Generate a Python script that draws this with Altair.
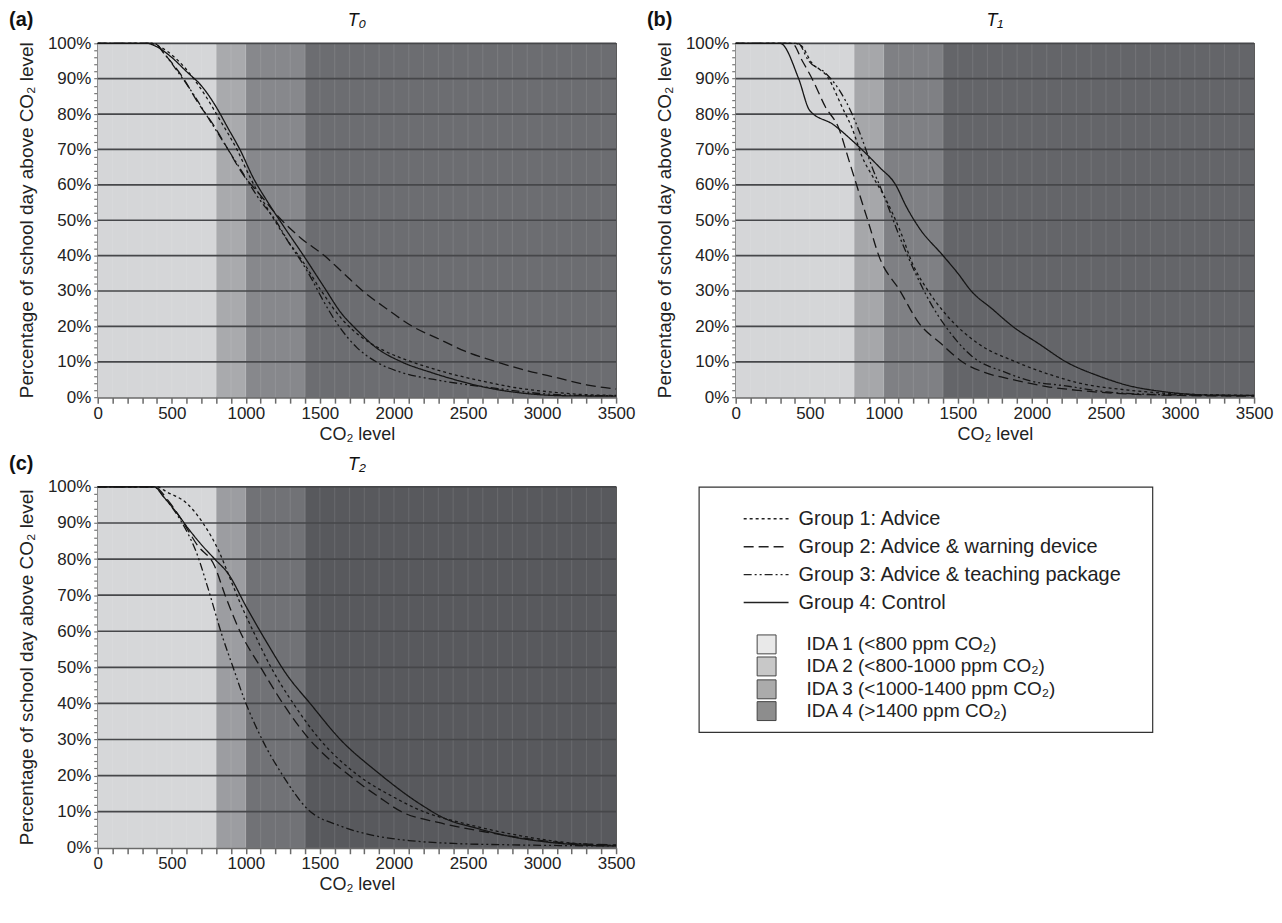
import altair as alt
import pandas as pd

FONT = "Liberation Sans"
W = 520
H_TOP, H_BOT = 355, 362

# ---------------- data ----------------
groups = ["Group 1: Advice", "Group 2: Advice & warning device",
          "Group 3: Advice & teaching package", "Group 4: Control"]
group_dashes = [[3, 3], [10, 5], [8, 3, 2, 3, 2, 3], [1, 0]]

ida_names = ["IDA 1 (<800 ppm CO₂)", "IDA 2 (<800-1000 ppm CO₂)",
             "IDA 3 (<1000-1400 ppm CO₂)", "IDA 4 (>1400 ppm CO₂)"]
ida_start = [0, 800, 1000, 1400]
ida_end = [800, 1000, 1400, 3500]
band_colors_a = ["#d5d6d8", "#a9aaad", "#87888c", "#6c6d71"]
band_colors_b = ["#d5d6d8", "#a6a7aa", "#7f8084", "#646569"]
band_colors_c = ["#d6d7d9", "#9c9da1", "#717276", "#58595d"]
legend_swatch_colors = ["#e9e9e9", "#c8c8c8", "#ababab", "#8d8d8d"]

co2_ticks = list(range(0, 3501, 100))
pct_ticks = list(range(0, 101, 2))
hgrid_pct = list(range(10, 101, 10))
vgrid_co2 = list(range(100, 3500, 100))

# T0
t0_g1_co2 = [0, 350, 420, 520, 630, 730, 830, 940, 1030, 1150, 1270, 1390, 1510, 1650, 1780, 1940, 2120, 2350, 2600, 2850, 3050, 3300, 3500]
t0_g1_pct = [100, 100, 99, 96, 91, 85, 78, 70, 62, 53, 45, 38, 30, 22, 17, 13, 10, 7, 4.5, 2.5, 1.5, 0.7, 0.5]
t0_g2_co2 = [0, 380, 470, 580, 680, 780, 880, 980, 1100, 1220, 1370, 1530, 1660, 1790, 1950, 2125, 2300, 2480, 2690, 2900, 3100, 3300, 3500]
t0_g2_pct = [100, 100, 96, 90, 83, 77, 70, 63, 57, 51, 45, 40, 35, 30, 25, 20, 16.5, 13, 10, 7.5, 5.5, 3.5, 2.3]
t0_g3_co2 = [0, 380, 450, 540, 640, 730, 850, 970, 1090, 1200, 1300, 1380, 1450, 1500, 1630, 1750, 1880, 2050, 2270, 2500, 2690, 3000, 3250, 3500]
t0_g3_pct = [100, 100, 97, 92, 86, 80, 72, 64, 56, 50, 43, 38, 33, 29, 20, 14, 10, 7, 5, 3.5, 2.5, 1, 0.5, 0.4]
t0_g4_co2 = [0, 330, 400, 500, 600, 700, 800, 880, 960, 1050, 1150, 1260, 1390, 1530, 1640, 1750, 1880, 2050, 2250, 2450, 2650, 2900, 3150, 3500]
t0_g4_pct = [100, 100, 99, 96, 92, 88, 82, 76, 70, 62, 55, 48, 40, 31, 24, 19, 14, 10, 7, 4.5, 2.5, 1, 0.4, 0.3]

# T1
t1_g1_co2 = [0, 400, 450, 505, 628, 718, 786, 853, 930, 1000, 1120, 1191, 1300, 1417, 1642, 1890, 2150, 2318, 2650, 3000, 3500]
t1_g1_pct = [100, 100, 99, 95, 90, 82, 76, 68, 62, 57, 46, 38, 30, 23.5, 15, 10, 6, 4, 2, 0.9, 0.5]
t1_g2_co2 = [0, 380, 450, 516, 606, 696, 764, 831, 899, 966, 1110, 1236, 1390, 1529, 1680, 1867, 2100, 2318, 2600, 3000, 3500]
t1_g2_pct = [100, 100, 95, 90, 82, 76, 67, 58, 49, 40, 30, 21, 15, 10, 7, 5, 3, 1.9, 1, 0.5, 0.3]
t1_g3_co2 = [0, 420, 493, 606, 696, 786, 853, 921, 1000, 1110, 1214, 1310, 1417, 1597, 1822, 2000, 2228, 2500, 2800, 3500]
t1_g3_pct = [100, 100, 95, 91.6, 87, 80, 73, 65, 57, 45, 35, 27, 20, 11.5, 7, 4.5, 3.2, 1.5, 0.8, 0.4]
t1_g4_co2 = [0, 300, 425, 500, 660, 800, 970, 1080, 1150, 1236, 1400, 1500, 1590, 1730, 1870, 2050, 2230, 2450, 2650, 2900, 3200, 3500]
t1_g4_pct = [100, 100, 90, 81, 77, 72, 65, 60, 54, 48, 40, 35, 30, 25, 20, 15, 10, 6, 3.3, 1.5, 0.6, 0.5]

# T2
t2_g1_co2 = [0, 400, 470, 600, 710, 820, 890, 960, 1050, 1170, 1320, 1500, 1760, 2000, 2200, 2450, 2650, 2900, 3150, 3400, 3500]
t2_g1_pct = [100, 100, 98.5, 95.5, 90, 82, 75, 68, 60, 50, 40, 30, 20, 14, 10, 7, 5, 3, 1.5, 0.8, 0.6]
t2_g2_co2 = [0, 380, 480, 580, 670, 790, 860, 960, 1100, 1250, 1430, 1700, 1900, 2050, 2300, 2600, 2900, 3200, 3500]
t2_g2_pct = [100, 100, 96, 90, 84, 78, 70, 60, 50, 40, 30, 20, 14, 10, 7, 4.5, 2.5, 1.2, 0.8]
t2_g3_co2 = [0, 380, 450, 540, 610, 665, 744, 846, 914, 982, 1110, 1250, 1410, 1640, 1850, 2100, 2400, 2800, 3500]
t2_g3_pct = [100, 100, 97, 92, 87, 82, 72, 58, 50, 42, 30, 20, 11, 6, 3.5, 2, 1.2, 0.8, 0.5]
t2_g4_co2 = [0, 380, 450, 530, 620, 700, 790, 880, 1000, 1140, 1276, 1434, 1638, 1887, 2181, 2350, 2550, 2800, 3050, 3300, 3500]
t2_g4_pct = [100, 100, 97, 93, 88, 84, 80, 76, 67, 57, 48, 40, 30, 21, 12, 8, 5.5, 3, 1.5, 0.7, 0.5]

legend_group_rows = [0, 1, 2, 3]
legend_ida_rows = [4.5, 5.29, 6.11, 6.89]

Y_TITLE = "Percentage of school day above CO₂ level"
X_TITLE = "CO₂ level"

# ---------------- helpers ----------------
xscale = alt.Scale(domain=[0, 3500], nice=False, zero=False)
yscale = alt.Scale(domain=[0, 100], nice=False)

x_axis = alt.Axis(values=co2_ticks, labelExpr="datum.value % 500 === 0 ? '' + datum.value : ''",
                  labelOverlap=False, labelFlush=False, tickSize=6, tickColor="#6a6a6a", tickWidth=1.5,
                  domainColor="#6a6a6a", domainWidth=2, labelFontSize=17, labelColor="#222",
                  labelPadding=2, titleFontSize=18, titleFontWeight="normal", titleColor="#222",
                  titlePadding=4, grid=False)
y_axis = alt.Axis(values=pct_ticks, labelExpr="datum.value % 10 === 0 ? datum.value + '%' : ''",
                  labelOverlap=False, labelFlush=False, tickSize=4, tickColor="#777", tickWidth=1.2,
                  domainColor="#6a6a6a", domainWidth=2, labelFontSize=17, labelColor="#222",
                  labelPadding=3, grid=False)

X = lambda f: alt.X(f, scale=xscale, axis=x_axis, title=X_TITLE)
Y = lambda f: alt.Y(f, scale=yscale, axis=y_axis, title="")

dash_scale = alt.Scale(domain=groups, range=group_dashes)


def curves_df(cs):
    rows = []
    for g, (xs, ys) in zip(groups, cs):
        for a, b in zip(xs, ys):
            rows.append({"group": g, "co2": a, "pct": b})
    return pd.DataFrame(rows)


def panel(letter, title, cs, band_colors, H):
    bands = pd.DataFrame({"ida": ida_names, "start": ida_start, "end": ida_end, "fill": band_colors})
    band = alt.Chart(bands).mark_rect().encode(
        x=X("start:Q"), x2="end:Q", y=alt.value(0), y2=alt.value(H),
        fill=alt.Fill("fill:N", scale=None))
    vgrid = alt.Chart(pd.DataFrame({"co2": vgrid_co2})).mark_rule(
        color="white", opacity=0.09, strokeWidth=1.2).encode(x=X("co2:Q"))
    hgrid = alt.Chart(pd.DataFrame({"pct": hgrid_pct})).mark_rule(
        color="#46474a", strokeWidth=1.7).encode(y=Y("pct:Q"))
    lines = alt.Chart(curves_df(cs)).mark_line(
        color="#151515", strokeWidth=1.3, interpolate="monotone").encode(
        x=X("co2:Q"), y=Y("pct:Q"), detail="group:N",
        strokeDash=alt.StrokeDash("group:N", scale=dash_scale, legend=None))
    lab = alt.Chart(pd.DataFrame({"t": [letter]})).mark_text(
        fontWeight="bold", fontSize=20, align="left", baseline="top", font=FONT, color="#111").encode(
        x=alt.value(-89), y=alt.value(-33), text="t:N")
    ttl = alt.Chart(pd.DataFrame({"t": [title]})).mark_text(
        fontStyle="italic", fontSize=18, align="center", baseline="top", font=FONT, color="#111").encode(
        x=alt.value(W / 2), y=alt.value(-31), text="t:N")
    ytl = alt.Chart(pd.DataFrame({"t": [Y_TITLE]})).mark_text(
        angle=270, fontSize=19, align="center", baseline="middle", font=FONT, color="#222").encode(
        x=alt.value(-71), y=alt.value(H / 2), text="t:N")
    return alt.layer(band, vgrid, hgrid, lines, lab, ttl, ytl).properties(width=W, height=H)


pa = panel("(a)", "T₀", [(t0_g1_co2, t0_g1_pct), (t0_g2_co2, t0_g2_pct),
                         (t0_g3_co2, t0_g3_pct), (t0_g4_co2, t0_g4_pct)], band_colors_a, H_TOP)
pb = panel("(b)", "T₁", [(t1_g1_co2, t1_g1_pct), (t1_g2_co2, t1_g2_pct),
                         (t1_g3_co2, t1_g3_pct), (t1_g4_co2, t1_g4_pct)], band_colors_b, H_TOP)
pc = panel("(c)", "T₂", [(t2_g1_co2, t2_g1_pct), (t2_g2_co2, t2_g2_pct),
                         (t2_g3_co2, t2_g3_pct), (t2_g4_co2, t2_g4_pct)], band_colors_c, H_BOT)

# ---------------- legend box ----------------
LW, LH = 455, 246
ly = alt.Scale(domain=[-32 / 28, (LH - 32) / 28], reverse=True)
gdf = pd.DataFrame({"group": groups, "row": legend_group_rows})
idf = pd.DataFrame({"ida": ida_names, "row": legend_ida_rows, "fill": legend_swatch_colors})
leg_lines = alt.Chart(gdf).mark_rule(color="#222", strokeWidth=1.4).encode(
    x=alt.value(45), x2=alt.value(90), y=alt.Y("row:Q", scale=ly, axis=None),
    strokeDash=alt.StrokeDash("group:N", scale=dash_scale, legend=None))
leg_gtext = alt.Chart(gdf).mark_text(align="left", baseline="middle", fontSize=20, font=FONT, color="#222").encode(
    x=alt.value(100), y=alt.Y("row:Q", scale=ly, axis=None), text="group:N")
leg_sq = alt.Chart(idf).mark_square(size=360, stroke="#444", strokeWidth=1, opacity=1).encode(
    x=alt.value(68), y=alt.Y("row:Q", scale=ly, axis=None), fill=alt.Fill("fill:N", scale=None))
leg_itext = alt.Chart(idf).mark_text(align="left", baseline="middle", fontSize=19, font=FONT, color="#222").encode(
    x=alt.value(108), y=alt.Y("row:Q", scale=ly, axis=None), text="ida:N")
legend_box = alt.layer(leg_lines, leg_gtext, leg_sq, leg_itext).properties(
    width=LW, height=LH, view=alt.ViewConfig(stroke="#333", strokeWidth=1.2))

top = alt.HConcatChart(hconcat=[pa, pb], spacing=120, bounds="flush")
bottom = alt.HConcatChart(hconcat=[pc, legend_box], spacing=83, bounds="flush")
chart = alt.VConcatChart(vconcat=[top, bottom], spacing=9).properties(
    padding=0, background="white").configure(font=FONT).configure_view(stroke="#555", strokeWidth=1.2)

chart.save("out.html", embed_options={"renderer": "svg", "actions": False})
